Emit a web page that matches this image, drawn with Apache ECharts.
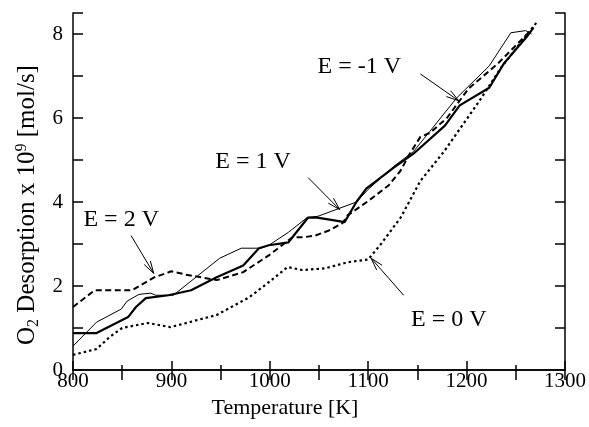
<!DOCTYPE html>
<html>
<head>
<meta charset="utf-8">
<script src="https://cdn.jsdelivr.net/npm/echarts@6/dist/echarts.min.js"></script>
<style>
  html, body { margin: 0; padding: 0; background: #fff; }
  #chart { width: 589px; height: 427px; }
</style>
</head>
<body>
<div id="chart"></div>
<script>
// ========================================
// data
// ========================================

// thin solid line
const tempThin = [800, 824, 849, 855, 867, 879, 884, 902, 949, 971, 991, 999, 1019, 1038, 1049, 1088, 1100, 1126, 1146, 1165, 1190, 1223, 1245, 1260, 1266];
const valThin = [0.57, 1.14, 1.45, 1.64, 1.80, 1.83, 1.78, 1.78, 2.66, 2.90, 2.90, 2.97, 3.28, 3.63, 3.66, 4.00, 4.30, 4.85, 5.20, 5.75, 6.48, 7.24, 8.03, 8.08, 8.00];

// thick solid line
const tempThick = [800, 824, 850, 856, 864, 874, 897, 920, 946, 973, 989, 999, 1019, 1026, 1039, 1048, 1064, 1076, 1088, 1098, 1126, 1146, 1178, 1193, 1223, 1238, 1262, 1268];
const valThick = [0.88, 0.88, 1.19, 1.26, 1.50, 1.71, 1.78, 1.90, 2.21, 2.49, 2.90, 2.97, 3.04, 3.25, 3.63, 3.63, 3.57, 3.52, 4.00, 4.32, 4.82, 5.15, 5.82, 6.30, 6.72, 7.30, 7.96, 8.15];

// dashed line (E = 2 V)
const tempDash = [800, 822, 860, 882, 900, 915, 946, 973, 999, 1023, 1034, 1046, 1060, 1074, 1079, 1101, 1121, 1133, 1141, 1153, 1163, 1180, 1202, 1232, 1268];
const valDash = [1.50, 1.90, 1.90, 2.20, 2.35, 2.27, 2.14, 2.33, 2.73, 3.16, 3.16, 3.20, 3.32, 3.50, 3.68, 4.04, 4.40, 4.75, 5.10, 5.55, 5.65, 6.00, 6.70, 7.30, 8.15];

// dotted line (E = 0 V)
const tempDot = [800, 824, 837, 850, 876, 899, 946, 979, 999, 1018, 1033, 1056, 1080, 1100, 1113, 1133, 1153, 1177, 1212, 1235, 1272];
const valDot = [0.36, 0.50, 0.78, 1.00, 1.12, 1.02, 1.31, 1.73, 2.09, 2.45, 2.38, 2.42, 2.57, 2.63, 3.00, 3.63, 4.50, 5.20, 6.37, 7.20, 8.30];

// annotations: text, text position, arrow tail, arrow tip (data units)
const noteText = ["E = -1 V", "E = 1 V", "E = 2 V", "E = 0 V"];
const noteAt = [[1091, 7.22], [983, 4.96], [849, 3.58], [1182, 1.2]];
const arrowFrom = [[1153, 7.05], [1039, 4.58], [859, 3.2], [1136, 1.78]];
const arrowTo = [[1192, 6.41], [1071, 3.82], [882, 2.3], [1103, 2.66]];

// ========================================
// chart
// ========================================

const FONT = "Liberation Serif";
const chart = echarts.init(document.getElementById("chart"));

function pairs(xs, ys) {
    return xs.map((x, i) => [x, ys[i]]);
}

function lineSeries(xs, ys, width, dash) {
    return {
        type: "line",
        data: pairs(xs, ys),
        showSymbol: false,
        symbol: "none",
        xAxisIndex: 0,
        yAxisIndex: 0,
        lineStyle: { color: "#000", width: width, type: dash },
        silent: true,
        z: 3
    };
}

const frameLine = { show: true, lineStyle: { color: "#000", width: 1.5 } };
const tickStyle = { color: "#000", width: 1.5 };

chart.setOption({
    animation: false,
    grid: { left: 73, right: 14, top: 13, bottom: 57 },
    xAxis: [{
        type: "value",
        min: 800,
        max: 1300,
        interval: 100,
        position: "bottom",
        axisLine: frameLine,
        axisTick: { inside: true, length: 9, lineStyle: tickStyle },
        minorTick: { show: true, splitNumber: 2, length: 5, lineStyle: tickStyle },
        splitLine: { show: false },
        axisLabel: {
            color: "#000",
            fontFamily: FONT,
            fontSize: 21,
            margin: 1,
            formatter: v => String(v)
        },
        name: "Temperature [K]",
        nameLocation: "middle",
        nameGap: 19,
        nameTextStyle: { color: "#000", fontFamily: FONT, fontSize: 22, padding: [0, 68, 0, 0] }
    }, {
        type: "value",
        min: 800,
        max: 1300,
        interval: 50,
        position: "top",
        axisLine: frameLine,
        axisTick: { inside: true, length: 10, lineStyle: tickStyle },
        splitLine: { show: false },
        axisLabel: { show: false }
    }],
    yAxis: [{
        type: "value",
        min: 0,
        max: 8.5,
        interval: 1,
        position: "left",
        axisLine: frameLine,
        axisTick: { inside: true, length: 10, lineStyle: tickStyle },
        splitLine: { show: false },
        axisLabel: {
            color: "#000",
            fontFamily: FONT,
            fontSize: 21,
            margin: 10,
            formatter: v => (v % 2 === 0 ? String(v) : "")
        },
        name: "{a|O}{sub|2}{a| Desorption x 10}{sup|9}{a| [mol/s]}",
        nameLocation: "middle",
        nameGap: 24,
        nameTextStyle: {
            color: "#000",
            fontFamily: FONT,
            fontSize: 25,
            padding: [0, 27, 0, 0],
            rich: {
                a: { fontFamily: FONT, fontSize: 25, color: "#000", lineHeight: 28 },
                sub: { fontFamily: FONT, fontSize: 16, color: "#000", verticalAlign: "bottom", lineHeight: 28, padding: [9, 0, 0, 0] },
                sup: { fontFamily: FONT, fontSize: 16, color: "#000", verticalAlign: "top", lineHeight: 28, padding: [0, 0, 9, 0] }
            }
        }
    }, {
        type: "value",
        min: 0,
        max: 8.5,
        interval: 1,
        position: "right",
        axisLine: frameLine,
        axisTick: { inside: true, length: 10, lineStyle: tickStyle },
        splitLine: { show: false },
        axisLabel: { show: false }
    }],
    series: [
        lineSeries(tempThin, valThin, 1, "solid"),
        lineSeries(tempThick, valThick, 2.2, "solid"),
        lineSeries(tempDash, valDash, 2, [6, 3.5]),
        lineSeries(tempDot, valDot, 2.2, [2.5, 3]),
        {
            // arrows + labels
            type: "custom",
            xAxisIndex: 0,
            yAxisIndex: 0,
            silent: true,
            z: 5,
            data: noteText.map((t, i) => [arrowFrom[i][0], arrowFrom[i][1], arrowTo[i][0], arrowTo[i][1], noteAt[i][0], noteAt[i][1]]),
            renderItem: function (params, api) {
                const a = api.coord([api.value(0), api.value(1)]);
                const b = api.coord([api.value(2), api.value(3)]);
                const c = api.coord([api.value(4), api.value(5)]);
                const ang = Math.atan2(b[1] - a[1], b[0] - a[0]);
                const len = 13, spread = 0.28;
                const h1 = [b[0] - len * Math.cos(ang - spread), b[1] - len * Math.sin(ang - spread)];
                const h2 = [b[0] - len * Math.cos(ang + spread), b[1] - len * Math.sin(ang + spread)];
                const stroke = { stroke: "#000", lineWidth: 1, fill: null };
                return {
                    type: "group",
                    children: [
                        { type: "line", shape: { x1: a[0], y1: a[1], x2: b[0], y2: b[1] }, style: stroke },
                        { type: "polyline", shape: { points: [h1, b, h2] }, style: stroke },
                        {
                            type: "text",
                            x: c[0],
                            y: c[1],
                            style: {
                                text: noteText[params.dataIndex],
                                fontFamily: FONT,
                                fontSize: 24,
                                fill: "#000",
                                align: "center",
                                verticalAlign: "middle"
                            }
                        }
                    ]
                };
            }
        }
    ]
});
</script>
</body>
</html>
